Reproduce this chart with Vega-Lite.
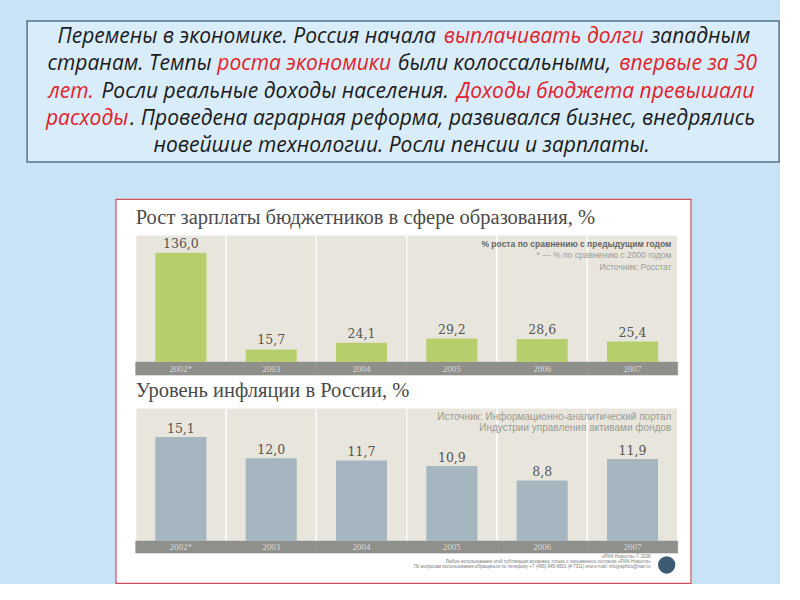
{
  "$schema": "https://vega.github.io/schema/vega-lite/v6.json",
  "background": "#c9e3f6",
  "padding": {"left": 26, "top": 20, "right": 0, "bottom": 0},
  "config": {"view": {"stroke": null}},
  "datasets": {
    "para": [
      {"line": 1, "part": "Перемены в экономике. Россия начала", "tone": "black", "at": 219.5},
      {"line": 1, "part": "выплачивать долги", "tone": "red", "at": 516.5},
      {"line": 1, "part": "западным", "tone": "black", "at": 673.5},
      {"line": 2, "part": "странам. Темпы", "tone": "black", "at": 102.5},
      {"line": 2, "part": "роста экономики", "tone": "red", "at": 277},
      {"line": 2, "part": "были колоссальными,", "tone": "black", "at": 477.5},
      {"line": 2, "part": "впервые за 30", "tone": "red", "at": 661},
      {"line": 3, "part": "лет.", "tone": "red", "at": 44},
      {"line": 3, "part": "Росли реальные доходы населения.", "tone": "black", "at": 248},
      {"line": 3, "part": "Доходы бюджета превышали", "tone": "red", "at": 578.5},
      {"line": 4, "part": "расходы", "tone": "red", "at": 60},
      {"line": 4, "part": ". Проведена аграрная реформа, развивался бизнес, внедрялись", "tone": "black", "at": 415.5},
      {"line": 5, "part": "новейшие технологии. Росли пенсии и зарплаты.", "tone": "black", "at": 374.5}
    ],
    "edu": [
      {"year": "2002*", "value": 136.0, "label": "136,0"},
      {"year": "2003", "value": 15.7, "label": "15,7"},
      {"year": "2004", "value": 24.1, "label": "24,1"},
      {"year": "2005", "value": 29.2, "label": "29,2"},
      {"year": "2006", "value": 28.6, "label": "28,6"},
      {"year": "2007", "value": 25.4, "label": "25,4"}
    ],
    "infl": [
      {"year": "2002*", "value": 15.1, "label": "15,1"},
      {"year": "2003", "value": 12.0, "label": "12,0"},
      {"year": "2004", "value": 11.7, "label": "11,7"},
      {"year": "2005", "value": 10.9, "label": "10,9"},
      {"year": "2006", "value": 8.8, "label": "8,8"},
      {"year": "2007", "value": 11.9, "label": "11,9"}
    ]
  },
  "vconcat": [
    {
      "width": 752,
      "height": 141,
      "view": {"fill": "#d8ecfa", "stroke": "#56728f", "strokeWidth": 1.5},
      "data": {"name": "para"},
      "mark": {"type": "text", "font": "Open Sans", "fontStyle": "italic", "fontSize": 21, "fontWeight": 500, "align": "center", "baseline": "middle"},
      "encoding": {
        "x": {"field": "at", "type": "quantitative", "scale": {"domain": [0, 752], "nice": false, "zero": false}, "axis": null},
        "y": {"field": "line", "type": "ordinal", "scale": {"type": "point", "padding": 0.6}, "axis": null},
        "text": {"field": "part"},
        "color": {"field": "tone", "type": "nominal", "scale": {"domain": ["black", "red"], "range": ["#1b1b1b", "#e3222b"]}, "legend": null}
      }
    },
    {
      "width": 575,
      "height": 384,
      "view": {"fill": "#ffffff", "stroke": "#d0505c", "strokeWidth": 1.2},
      "layer": [
        {
          "data": {"name": "edu"},
          "layer": [
            {
              "mark": {"type": "rect", "fill": "#e8e6dc", "stroke": "#ffffff", "strokeWidth": 1.2},
              "encoding": {
                "x": {"field": "year", "type": "nominal", "sort": null, "scale": {"type": "band", "range": [20, 562], "paddingInner": 0, "paddingOuter": 0}, "axis": null},
                "y": {"datum": 158, "type": "quantitative", "scale": {"domain": [-16.17, 158], "range": [176, 36], "nice": false, "zero": false}, "axis": null},
                "y2": {"datum": 0}
              }
            },
            {
              "mark": {"type": "rect", "fill": "#8f8f8b", "stroke": "#8f8f8b", "strokeWidth": 0.6},
              "encoding": {
                "x": {"field": "year", "type": "nominal", "sort": null},
                "y": {"datum": 0, "type": "quantitative"},
                "y2": {"datum": -16.17}
              }
            },
            {
              "mark": {"type": "bar", "fill": "#b6cf6c", "width": {"band": 0.565}},
              "encoding": {
                "x": {"field": "year", "type": "nominal", "sort": null},
                "y": {"field": "value", "type": "quantitative"},
                "y2": {"datum": 0}
              }
            },
            {
              "mark": {"type": "text", "font": "DejaVu Serif", "fontSize": 12.5, "color": "#555555", "baseline": "bottom", "dy": -2},
              "encoding": {
                "x": {"field": "year", "type": "nominal", "sort": null},
                "y": {"field": "value", "type": "quantitative"},
                "text": {"field": "label"}
              }
            },
            {
              "mark": {"type": "text", "font": "Liberation Serif", "fontSize": 9, "color": "#dcdcd8", "baseline": "middle"},
              "encoding": {
                "x": {"field": "year", "type": "nominal", "sort": null},
                "y": {"datum": -8.1, "type": "quantitative"},
                "text": {"field": "year"}
              }
            },
            {
              "data": {"values": [{"t": "Рост зарплаты бюджетников в сфере образования, %"}]},
              "mark": {"type": "text", "font": "Liberation Serif", "fontSize": 20.5, "color": "#4a4a4a", "align": "left", "baseline": "middle"},
              "encoding": {
                "x": {"datum": "2002*", "bandPosition": 0},
                "y": {"datum": 179.2, "type": "quantitative"},
                "text": {"field": "t"}
              }
            },
            {
              "data": {"values": [{"t": "% роста по сравнению с предыдущим годом"}]},
              "mark": {"type": "text", "font": "Liberation Sans", "fontSize": 8.5, "fontWeight": "bold", "color": "#666666", "align": "right", "baseline": "middle"},
              "encoding": {
                "x": {"datum": "2007", "bandPosition": 0.93},
                "y": {"datum": 146.8, "type": "quantitative"},
                "text": {"field": "t"}
              }
            },
            {
              "data": {"values": [{"t": "* — % по сравнению с 2000 годом"}]},
              "mark": {"type": "text", "font": "Liberation Sans", "fontSize": 8.5, "color": "#9a9a96", "align": "right", "baseline": "middle"},
              "encoding": {
                "x": {"datum": "2007", "bandPosition": 0.93},
                "y": {"datum": 133.1, "type": "quantitative"},
                "text": {"field": "t"}
              }
            },
            {
              "data": {"values": [{"t": "Источник: Росстат"}]},
              "mark": {"type": "text", "font": "Liberation Sans", "fontSize": 8.5, "color": "#9a9a96", "align": "right", "baseline": "middle"},
              "encoding": {
                "x": {"datum": "2007", "bandPosition": 0.93},
                "y": {"datum": 118.2, "type": "quantitative"},
                "text": {"field": "t"}
              }
            }
          ]
        },
        {
          "data": {"name": "infl"},
          "layer": [
            {
              "mark": {"type": "rect", "fill": "#e8e6dc", "stroke": "#ffffff", "strokeWidth": 1.2},
              "encoding": {
                "x": {"field": "year", "type": "nominal", "sort": null},
                "y": {"datum": 19.31, "type": "quantitative", "scale": {"domain": [-1.742, 19.31], "range": [354, 209], "nice": false, "zero": false}, "axis": null},
                "y2": {"datum": 0}
              }
            },
            {
              "mark": {"type": "rect", "fill": "#8f8f8b", "stroke": "#8f8f8b", "strokeWidth": 0.6},
              "encoding": {
                "x": {"field": "year", "type": "nominal", "sort": null},
                "y": {"datum": 0, "type": "quantitative"},
                "y2": {"datum": -1.742}
              }
            },
            {
              "mark": {"type": "bar", "fill": "#a5b6c1", "width": {"band": 0.565}},
              "encoding": {
                "x": {"field": "year", "type": "nominal", "sort": null},
                "y": {"field": "value", "type": "quantitative"},
                "y2": {"datum": 0}
              }
            },
            {
              "mark": {"type": "text", "font": "DejaVu Serif", "fontSize": 12.5, "color": "#555555", "baseline": "bottom", "dy": -1},
              "encoding": {
                "x": {"field": "year", "type": "nominal", "sort": null},
                "y": {"field": "value", "type": "quantitative"},
                "text": {"field": "label"}
              }
            },
            {
              "mark": {"type": "text", "font": "Liberation Serif", "fontSize": 9, "color": "#dcdcd8", "baseline": "middle"},
              "encoding": {
                "x": {"field": "year", "type": "nominal", "sort": null},
                "y": {"datum": -0.871, "type": "quantitative"},
                "text": {"field": "year"}
              }
            },
            {
              "data": {"values": [{"t": "Уровень инфляции в России, %"}]},
              "mark": {"type": "text", "font": "Liberation Serif", "fontSize": 20.5, "color": "#4a4a4a", "align": "left", "baseline": "middle"},
              "encoding": {
                "x": {"datum": "2002*", "bandPosition": 0},
                "y": {"datum": 21.78, "type": "quantitative"},
                "text": {"field": "t"}
              }
            },
            {
              "data": {"values": [{"t": "Источник: Информационно-аналитический портал"}]},
              "mark": {"type": "text", "font": "Liberation Sans", "fontSize": 10, "color": "#9a9a96", "align": "right", "baseline": "middle"},
              "encoding": {
                "x": {"datum": "2007", "bandPosition": 0.93},
                "y": {"datum": 18.0, "type": "quantitative"},
                "text": {"field": "t"}
              }
            },
            {
              "data": {"values": [{"t": "Индустрии управления активами фондов"}]},
              "mark": {"type": "text", "font": "Liberation Sans", "fontSize": 10, "color": "#9a9a96", "align": "right", "baseline": "middle"},
              "encoding": {
                "x": {"datum": "2007", "bandPosition": 0.93},
                "y": {"datum": 16.41, "type": "quantitative"},
                "text": {"field": "t"}
              }
            },
            {
              "data": {"values": [{"t": "«РИА Новости» © 2008"}]},
              "mark": {"type": "text", "font": "Liberation Sans", "fontSize": 4.5, "color": "#7a7a7a", "align": "right", "baseline": "middle"},
              "encoding": {
                "x": {"datum": "2007", "bandPosition": 0.7},
                "y": {"datum": -2.323, "type": "quantitative"},
                "text": {"field": "t"}
              }
            },
            {
              "data": {"values": [{"t": "Любое использование этой публикации возможно только с письменного согласия «РИА Новости»"}]},
              "mark": {"type": "text", "font": "Liberation Sans", "fontSize": 4.5, "color": "#7a7a7a", "align": "right", "baseline": "middle"},
              "encoding": {
                "x": {"datum": "2007", "bandPosition": 0.7},
                "y": {"datum": -3.049, "type": "quantitative"},
                "text": {"field": "t"}
              }
            },
            {
              "data": {"values": [{"t": "По вопросам использования обращаться по телефону +7 (495) 645-6601 (# 7311) или e-mail: infographics@rian.ru"}]},
              "mark": {"type": "text", "font": "Liberation Sans", "fontSize": 4.5, "color": "#7a7a7a", "align": "right", "baseline": "middle"},
              "encoding": {
                "x": {"datum": "2007", "bandPosition": 0.7},
                "y": {"datum": -3.775, "type": "quantitative"},
                "text": {"field": "t"}
              }
            },
            {
              "data": {"values": [{"t": "globe"}]},
              "mark": {"type": "point", "shape": "circle", "filled": true, "size": 300, "color": "#3d5b72", "opacity": 1},
              "encoding": {
                "x": {"datum": "2007", "bandPosition": 0.878},
                "y": {"datum": -3.484, "type": "quantitative"}
              }
            }
          ]
        }
      ],
      "resolve": {"scale": {"y": "independent"}}
    }
  ],
  "center": true,
  "spacing": 35
}
